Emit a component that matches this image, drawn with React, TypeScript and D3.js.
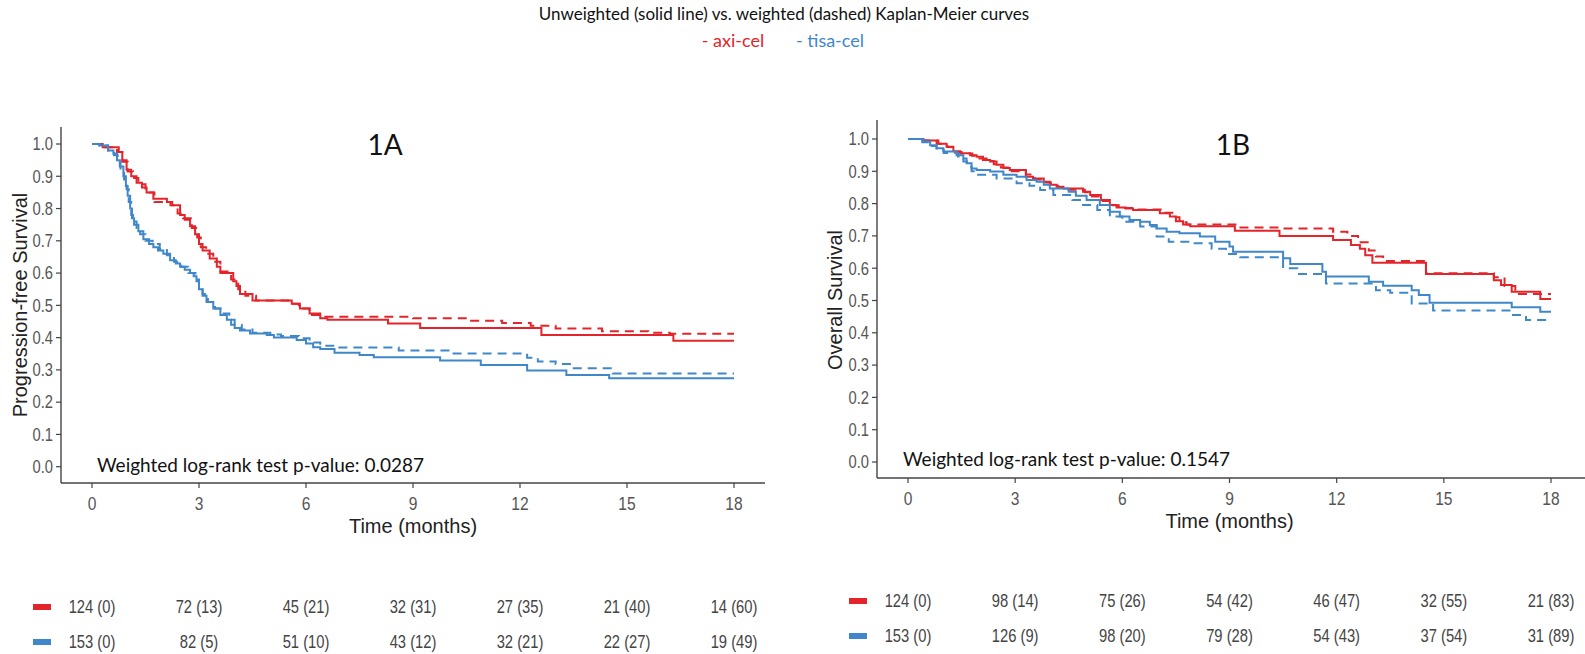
import React from "react";
import * as d3 from "d3";

// Kaplan-Meier step points: [month, survival]
const pfsAxiSolid: [number, number][] = [
  [0, 1], [0.3, 0.99], [0.75, 0.975], [0.85, 0.95], [0.97, 0.92], [1.1, 0.9], [1.25, 0.88], [1.4, 0.865],
  [1.53, 0.85], [1.72, 0.83], [2.1, 0.82], [2.25, 0.81], [2.47, 0.78], [2.6, 0.765], [2.75, 0.745],
  [2.89, 0.72], [3.0, 0.69], [3.1, 0.67], [3.3, 0.645], [3.5, 0.62], [3.6, 0.6], [3.96, 0.575],
  [4.05, 0.56], [4.15, 0.535], [4.5, 0.515], [5.6, 0.505], [5.83, 0.49], [6.1, 0.475], [6.4, 0.46],
  [6.6, 0.455], [8.3, 0.444], [9.2, 0.43], [12.6, 0.408], [16.3, 0.39], [18, 0.39],
];
const pfsAxiWeighted: [number, number][] = [
  [0, 1], [0.25, 0.99], [0.7, 0.975], [0.85, 0.945], [1.0, 0.915], [1.15, 0.895], [1.3, 0.875], [1.5, 0.85],
  [1.75, 0.82], [2.2, 0.81], [2.4, 0.785], [2.55, 0.77], [2.8, 0.74], [2.95, 0.71], [3.05, 0.68],
  [3.2, 0.66], [3.4, 0.635], [3.6, 0.605], [3.9, 0.58], [4.1, 0.55], [4.3, 0.53], [4.6, 0.515],
  [5.5, 0.505], [5.8, 0.49], [6.1, 0.47], [6.5, 0.465], [9.0, 0.46], [10.6, 0.452], [11.5, 0.445],
  [12.3, 0.437], [13.0, 0.428], [14.3, 0.42], [15.6, 0.415], [16.2, 0.412], [18, 0.412],
];
const pfsTisaSolid: [number, number][] = [
  [0, 1], [0.22, 0.995], [0.45, 0.98], [0.6, 0.97], [0.7, 0.95], [0.78, 0.93], [0.88, 0.9], [0.95, 0.87],
  [1.0, 0.84], [1.07, 0.8], [1.12, 0.77], [1.18, 0.75], [1.3, 0.73], [1.44, 0.705], [1.6, 0.69],
  [1.72, 0.68], [1.85, 0.67], [2.0, 0.66], [2.19, 0.64], [2.35, 0.63], [2.47, 0.62], [2.6, 0.61],
  [2.75, 0.6], [2.85, 0.59], [2.93, 0.575], [3.0, 0.55], [3.1, 0.53], [3.21, 0.51], [3.4, 0.49],
  [3.6, 0.47], [3.78, 0.455], [3.9, 0.44], [4.0, 0.43], [4.15, 0.422], [4.43, 0.413], [4.9, 0.408],
  [5.1, 0.4], [5.74, 0.393], [6.0, 0.382], [6.2, 0.37], [6.4, 0.365], [6.8, 0.353], [7.5, 0.346],
  [7.9, 0.339], [9.76, 0.329], [10.9, 0.315], [12.2, 0.298], [13.3, 0.284], [14.5, 0.274], [18, 0.274],
];
const pfsTisaWeighted: [number, number][] = [
  [0, 1], [0.2, 0.995], [0.45, 0.98], [0.62, 0.965], [0.72, 0.945], [0.8, 0.92], [0.9, 0.89], [0.97, 0.86],
  [1.03, 0.82], [1.1, 0.78], [1.15, 0.76], [1.25, 0.74], [1.35, 0.72], [1.5, 0.7], [1.7, 0.69],
  [1.9, 0.675], [2.1, 0.655], [2.3, 0.635], [2.5, 0.62], [2.7, 0.6], [2.9, 0.58], [3.0, 0.56],
  [3.1, 0.535], [3.25, 0.51], [3.45, 0.49], [3.65, 0.475], [3.85, 0.455], [4.0, 0.44], [4.2, 0.425],
  [4.5, 0.415], [5.0, 0.41], [5.3, 0.405], [5.8, 0.398], [6.1, 0.385], [6.4, 0.375], [6.8, 0.369],
  [8.6, 0.36], [10.1, 0.351], [12.2, 0.338], [12.5, 0.326], [13.0, 0.318], [13.4, 0.305], [14.6, 0.289],
  [18, 0.289],
];

const osAxiSolid: [number, number][] = [
  [0, 1], [0.43, 0.995], [0.8, 0.985], [1.08, 0.976], [1.27, 0.962], [1.46, 0.956], [1.74, 0.95],
  [1.92, 0.945], [2.1, 0.935], [2.3, 0.93], [2.48, 0.92], [2.67, 0.91], [2.85, 0.904], [3.3, 0.883],
  [3.5, 0.878], [3.8, 0.868], [3.97, 0.858], [4.16, 0.852], [4.35, 0.847], [4.9, 0.837], [5.1, 0.827],
  [5.4, 0.811], [5.65, 0.796], [5.84, 0.788], [6.1, 0.785], [6.3, 0.78], [7.05, 0.77], [7.33, 0.76],
  [7.5, 0.745], [7.7, 0.735], [7.9, 0.73], [9.15, 0.716], [10.4, 0.7], [11.9, 0.687], [12.4, 0.672],
  [12.65, 0.66], [12.8, 0.64], [13.0, 0.617], [14.5, 0.582], [16.4, 0.563], [16.6, 0.548],
  [16.9, 0.527], [17.7, 0.505], [18, 0.505],
];
const osAxiWeighted: [number, number][] = [
  [0, 1], [0.4, 0.995], [0.85, 0.985], [1.1, 0.975], [1.3, 0.96], [1.5, 0.955], [1.8, 0.948], [2.0, 0.94],
  [2.2, 0.932], [2.4, 0.922], [2.6, 0.912], [2.8, 0.9], [3.3, 0.89], [3.55, 0.875], [3.85, 0.865],
  [4.0, 0.855], [4.2, 0.85], [4.4, 0.843], [4.95, 0.835], [5.15, 0.822], [5.45, 0.808], [5.7, 0.795],
  [5.9, 0.786], [6.3, 0.782], [7.1, 0.772], [7.4, 0.758], [7.6, 0.742], [7.8, 0.735], [9.2, 0.726],
  [10.4, 0.723], [11.9, 0.713], [12.3, 0.7], [12.6, 0.68], [12.9, 0.655], [13.1, 0.636], [13.3, 0.622],
  [14.5, 0.584], [16.4, 0.572], [16.7, 0.545], [17.0, 0.52], [18, 0.52],
];
const osTisaSolid: [number, number][] = [
  [0, 1], [0.43, 0.992], [0.62, 0.981], [0.8, 0.971], [0.99, 0.961], [1.36, 0.95], [1.55, 0.94],
  [1.64, 0.925], [1.78, 0.909], [1.92, 0.904], [2.3, 0.899], [2.67, 0.889], [3.04, 0.883], [3.32, 0.873],
  [3.6, 0.868], [3.8, 0.858], [3.97, 0.847], [4.5, 0.837], [4.7, 0.824], [5.0, 0.811], [5.37, 0.796],
  [5.65, 0.775], [5.93, 0.76], [6.2, 0.749], [6.5, 0.744], [6.77, 0.734], [6.96, 0.723], [7.24, 0.713],
  [7.6, 0.708], [8.17, 0.698], [8.6, 0.682], [9.0, 0.667], [9.1, 0.651], [10.5, 0.631], [10.7, 0.613],
  [11.6, 0.589], [11.7, 0.574], [12.9, 0.558], [13.3, 0.546], [14.1, 0.532], [14.3, 0.517],
  [14.6, 0.493], [16.9, 0.479], [17.7, 0.465], [18, 0.465],
];
const osTisaWeighted: [number, number][] = [
  [0, 1], [0.4, 0.99], [0.62, 0.978], [0.8, 0.967], [1.0, 0.957], [1.4, 0.946], [1.55, 0.93],
  [1.65, 0.914], [1.78, 0.9], [1.92, 0.889], [2.48, 0.878], [3.04, 0.863], [3.4, 0.855], [3.7, 0.842],
  [4.07, 0.827], [4.6, 0.811], [4.9, 0.796], [5.3, 0.78], [5.65, 0.76], [6.0, 0.744], [6.5, 0.729],
  [6.96, 0.698], [7.3, 0.682], [7.9, 0.677], [8.5, 0.66], [8.9, 0.644], [9.3, 0.634], [10.5, 0.6],
  [10.9, 0.582], [11.7, 0.553], [13.1, 0.532], [13.5, 0.524], [14.1, 0.491], [14.7, 0.469],
  [16.9, 0.455], [17.3, 0.44], [18, 0.44],
];

// numbers at risk (censored) at each x tick
const xTicks = [0, 3, 6, 9, 12, 15, 18];
const pfsAxiRisk = [124, 72, 45, 32, 27, 21, 14];
const pfsAxiCens = [0, 13, 21, 31, 35, 40, 60];
const pfsTisaRisk = [153, 82, 51, 43, 32, 22, 19];
const pfsTisaCens = [0, 5, 10, 12, 21, 27, 49];
const osAxiRisk = [124, 98, 75, 54, 46, 32, 21];
const osAxiCens = [0, 14, 26, 42, 47, 55, 83];
const osTisaRisk = [153, 126, 98, 79, 54, 37, 31];
const osTisaCens = [0, 9, 20, 28, 43, 54, 89];

const RED = "#e3242b";
const BLUE = "#3f87c9";
const SANS = "'Liberation Sans', Arial, sans-serif";
const CAL = "Lato, 'Open Sans', sans-serif";

type Pt = [number, number];

// Arial-Narrow look: regular sans squeezed horizontally
function NText(props: any) {
  const { x, y, anchor, size, fill, children } = props;
  return (
    <text
      transform={`translate(${x},${y}) scale(0.82,1)`}
      textAnchor={anchor || "middle"}
      dy="0.35em"
      fontFamily={SANS}
      fontSize={size}
      fill={fill}
    >
      {children}
    </text>
  );
}

function Panel(props: any) {
  const c = props.cfg;
  const x = d3.scaleLinear().domain([0, 18]).range(c.xRange);
  const y = d3.scaleLinear().domain([0, 1]).range(c.yRange);
  const line = d3
    .line<Pt>()
    .x((d) => x(d[0]))
    .y((d) => y(d[1]))
    .curve(d3.curveStepAfter);
  const axisColor = "#444";
  const tickColor = "#555";

  return (
    <g>
      {/* axes */}
      <line x1={c.axisX} x2={c.axisX} y1={c.axisTop} y2={c.axisY} stroke={axisColor} strokeWidth={1.4} />
      <line x1={c.axisX} x2={c.axisEnd} y1={c.axisY} y2={c.axisY} stroke={axisColor} strokeWidth={1.4} />
      {y.ticks(10).map((t) => (
        <g key={"y" + t}>
          <line x1={c.axisX - 5} x2={c.axisX} y1={y(t)} y2={y(t)} stroke={axisColor} strokeWidth={1.2} />
          <NText x={c.axisX - 8} y={y(t)} anchor="end" size={18} fill={tickColor}>
            {d3.format(".1f")(t)}
          </NText>
        </g>
      ))}
      {xTicks.map((t) => (
        <g key={"x" + t}>
          <line x1={x(t)} x2={x(t)} y1={c.axisY} y2={c.axisY + 5} stroke={axisColor} strokeWidth={1.2} />
          <NText x={x(t)} y={c.axisY + 20} size={19} fill={tickColor}>
            {t}
          </NText>
        </g>
      ))}
      <text x={(c.xRange[0] + c.xRange[1]) / 2} y={c.axisY + 50} textAnchor="middle" fontFamily={SANS} fontSize={20} fill="#222">
        Time (months)
      </text>
      <text
        transform={`translate(${c.yTitle[0]},${c.yTitle[1]}) rotate(-90)`}
        textAnchor="middle"
        dy="0.35em"
        fontFamily={SANS}
        fontSize={20}
        fill="#222"
      >
        {c.yLabel}
      </text>

      {/* curves */}
      <path d={line(c.axiSolid) || ""} fill="none" stroke={RED} strokeWidth={2} />
      <path d={line(c.axiWeighted) || ""} fill="none" stroke={RED} strokeWidth={2} strokeDasharray="9,6" />
      <path d={line(c.tisaSolid) || ""} fill="none" stroke={BLUE} strokeWidth={2} />
      <path d={line(c.tisaWeighted) || ""} fill="none" stroke={BLUE} strokeWidth={2} strokeDasharray="9,6" />

      <text x={c.label[0]} y={c.label[1]} textAnchor="middle" fontFamily={CAL} fontSize={28} fill="#111">
        {c.name}
      </text>
      <text x={c.pText[0]} y={c.pText[1]} fontFamily={CAL} fontSize={19} fill="#111">
        {c.pLabel}
      </text>

      {/* risk table */}
      {[
        { color: RED, risk: c.axiRisk, cens: c.axiCens, yy: c.riskY[0] },
        { color: BLUE, risk: c.tisaRisk, cens: c.tisaCens, yy: c.riskY[1] },
      ].map((row, ri) => (
        <g key={"r" + ri}>
          <rect x={c.markerX} y={row.yy - 3} width={18} height={6} fill={row.color} />
          {xTicks.map((t, i) => (
            <NText key={t} x={x(t)} y={row.yy} size={18} fill="#444">
              {`${row.risk[i]} (${row.cens[i]})`}
            </NText>
          ))}
        </g>
      ))}
    </g>
  );
}

const panelA = {
  name: "1A",
  yLabel: "Progression-free Survival",
  pLabel: "Weighted log-rank test p-value: 0.0287",
  xRange: [92, 734],
  yRange: [466.7, 144],
  axisX: 61,
  axisTop: 127,
  axisY: 483,
  axisEnd: 765,
  yTitle: [20, 305],
  label: [385, 155],
  pText: [97, 472],
  riskY: [607, 642],
  markerX: 33,
  axiSolid: pfsAxiSolid,
  axiWeighted: pfsAxiWeighted,
  tisaSolid: pfsTisaSolid,
  tisaWeighted: pfsTisaWeighted,
  axiRisk: pfsAxiRisk,
  axiCens: pfsAxiCens,
  tisaRisk: pfsTisaRisk,
  tisaCens: pfsTisaCens,
};

const panelB = {
  name: "1B",
  yLabel: "Overall Survival",
  pLabel: "Weighted log-rank test p-value: 0.1547",
  xRange: [908, 1551],
  yRange: [462, 139],
  axisX: 877,
  axisTop: 120,
  axisY: 478,
  axisEnd: 1585,
  yTitle: [835, 300],
  label: [1233, 155],
  pText: [903, 466],
  riskY: [601, 636],
  markerX: 849,
  axiSolid: osAxiSolid,
  axiWeighted: osAxiWeighted,
  tisaSolid: osTisaSolid,
  tisaWeighted: osTisaWeighted,
  axiRisk: osAxiRisk,
  axiCens: osAxiCens,
  tisaRisk: osTisaRisk,
  tisaCens: osTisaCens,
};

export default function App() {
  return (
    <svg
      width={1585}
      height={654}
      style={{ position: "absolute", left: 0, top: 0, background: "#fff" }}
    >
      <text x={784} y={20} textAnchor="middle" fontFamily={CAL} fontSize={17} fill="#111">
        Unweighted (solid line) vs. weighted (dashed) Kaplan-Meier curves
      </text>
      <text x={733} y={47} textAnchor="middle" fontFamily={CAL} fontSize={18} fill={RED}>
        - axi-cel
      </text>
      <text x={830} y={47} textAnchor="middle" fontFamily={CAL} fontSize={18} fill={BLUE}>
        - tisa-cel
      </text>
      <Panel cfg={panelA} />
      <Panel cfg={panelB} />
    </svg>
  );
}
